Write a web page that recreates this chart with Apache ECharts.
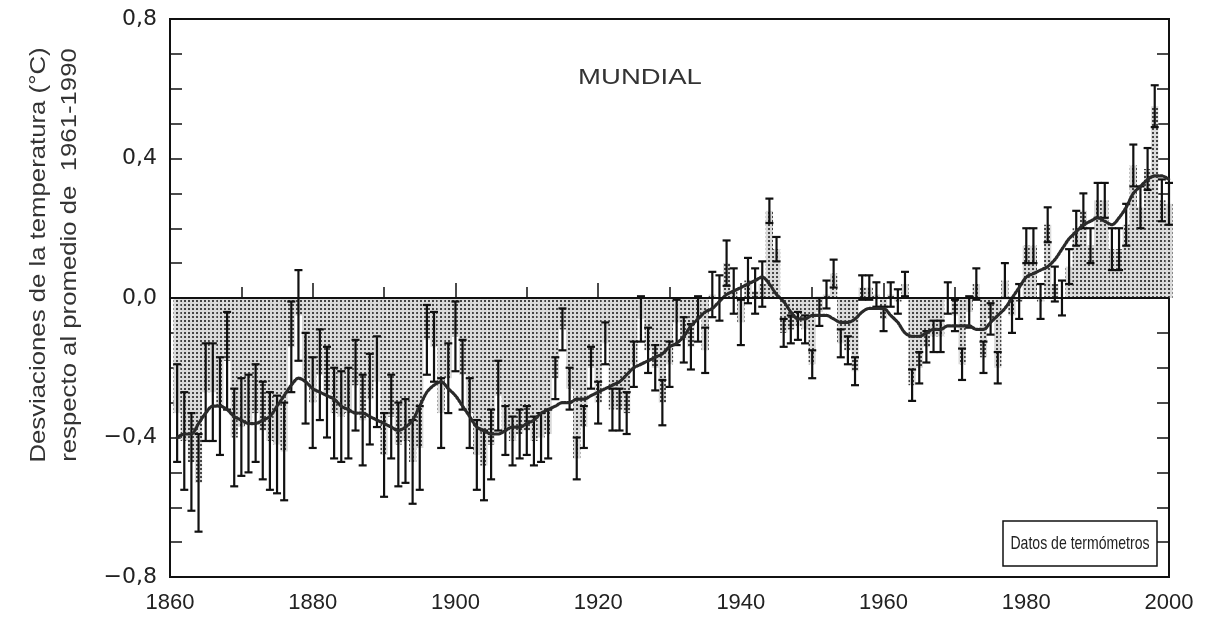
<!DOCTYPE html>
<html>
<head>
    <meta charset="UTF-8">
    <title>Temperatura mundial 1861-2000</title>
    <script src="https://cdn.jsdelivr.net/npm/echarts@6/dist/echarts.min.js"></script>
    <style>
        html, body { margin: 0; padding: 0; background: #fff; }
        #chart { width: 1210px; height: 620px; }
    </style>
</head>
<body>
<div id="chart"></div>
<script type="text/javascript">
    // primer año de la serie
    var firstYear = 1861;

    // desviación anual (°C) respecto a 1961-1990, 1861..2000
    var anomaly = [
        -0.33, -0.41, -0.47, -0.53, -0.27, -0.27, -0.31, -0.18, -0.40, -0.37,
        -0.36, -0.33, -0.38, -0.41, -0.42, -0.44, -0.14, -0.05, -0.23, -0.30,
        -0.22, -0.27, -0.33, -0.34, -0.33, -0.25, -0.35, -0.29, -0.24, -0.45,
        -0.34, -0.42, -0.41, -0.47, -0.43, -0.12, -0.14, -0.33, -0.23, -0.11,
        -0.22, -0.33, -0.45, -0.48, -0.42, -0.28, -0.38, -0.41, -0.39, -0.38,
        -0.41, -0.40, -0.39, -0.23, -0.09, -0.26, -0.46, -0.37, -0.20, -0.30,
        -0.13, -0.32, -0.32, -0.33, -0.19, -0.06, -0.15, -0.20, -0.30, -0.19,
        -0.07, -0.12, -0.14, -0.06, -0.15, 0.01, 0.00, 0.10, 0.02, -0.07,
        0.05, 0.02, 0.04, 0.25, 0.14, -0.10, -0.09, -0.08, -0.09, -0.19,
        -0.04, 0.01, 0.07, -0.13, -0.15, -0.21, 0.03, 0.03, 0.01, -0.06,
        0.01, -0.01, 0.04, -0.25, -0.20, -0.14, -0.11, -0.11, 0.00, -0.05,
        -0.19, -0.04, 0.04, -0.17, -0.06, -0.20, 0.05, -0.05, -0.01, 0.15,
        0.15, -0.01, 0.21, 0.04, 0.00, 0.09, 0.20, 0.25, 0.15, 0.28,
        0.28, 0.14, 0.14, 0.21, 0.38, 0.26, 0.37, 0.55, 0.28, 0.27
    ];

    // semiancho de la barra de error (°C)
    var errHalf = [
        0.14, 0.14, 0.14, 0.14, 0.14, 0.14, 0.14, 0.14, 0.14, 0.14,
        0.14, 0.14, 0.14, 0.14, 0.14, 0.14, 0.13, 0.13, 0.13, 0.13,
        0.13, 0.13, 0.13, 0.13, 0.13, 0.13, 0.13, 0.13, 0.13, 0.12,
        0.12, 0.12, 0.12, 0.12, 0.12, 0.10, 0.10, 0.10, 0.10, 0.10,
        0.10, 0.10, 0.10, 0.10, 0.10, 0.10, 0.07, 0.07, 0.07, 0.07,
        0.07, 0.07, 0.07, 0.06, 0.06, 0.06, 0.06, 0.06, 0.06, 0.06,
        0.06, 0.06, 0.06, 0.06, 0.065, 0.065, 0.065, 0.065, 0.065, 0.065,
        0.065, 0.065, 0.065, 0.065, 0.065, 0.065, 0.065, 0.065, 0.065, 0.065,
        0.065, 0.065, 0.065, 0.035, 0.035, 0.04, 0.04, 0.04, 0.04, 0.04,
        0.04, 0.04, 0.04, 0.04, 0.04, 0.04, 0.035, 0.035, 0.035, 0.035,
        0.035, 0.035, 0.035, 0.045, 0.045, 0.045, 0.045, 0.045, 0.045, 0.045,
        0.045, 0.045, 0.045, 0.045, 0.045, 0.045, 0.05, 0.05, 0.05, 0.05,
        0.05, 0.05, 0.05, 0.05, 0.05, 0.05, 0.05, 0.05, 0.05, 0.05,
        0.05, 0.06, 0.06, 0.06, 0.06, 0.06, 0.06, 0.06, 0.06, 0.06
    ];

    // curva suavizada
    var smooth = [
        -0.40, -0.39, -0.39, -0.36, -0.33, -0.31, -0.31, -0.32, -0.34, -0.35,
        -0.36, -0.36, -0.35, -0.34, -0.31, -0.28, -0.25, -0.23, -0.24, -0.26,
        -0.27, -0.28, -0.29, -0.31, -0.32, -0.33, -0.33, -0.34, -0.35, -0.36,
        -0.37, -0.38, -0.37, -0.35, -0.31, -0.27, -0.25, -0.24, -0.26, -0.28,
        -0.31, -0.34, -0.37, -0.38, -0.39, -0.39, -0.38, -0.37, -0.37, -0.36,
        -0.35, -0.33, -0.32, -0.31, -0.30, -0.30, -0.29, -0.29, -0.28, -0.27,
        -0.26, -0.25, -0.24, -0.22, -0.20, -0.19, -0.18, -0.17, -0.16, -0.14,
        -0.13, -0.11, -0.08, -0.06, -0.04, -0.03, -0.01, 0.01, 0.02, 0.03,
        0.04, 0.05, 0.06, 0.04, 0.01, -0.01, -0.04, -0.06, -0.06, -0.05,
        -0.05, -0.05, -0.06, -0.07, -0.07, -0.06, -0.04, -0.03, -0.03, -0.03,
        -0.05, -0.07, -0.10, -0.11, -0.11, -0.10, -0.09, -0.09, -0.08, -0.08,
        -0.08, -0.08, -0.09, -0.09, -0.07, -0.05, -0.03, 0.00, 0.03, 0.06,
        0.07, 0.08, 0.09, 0.11, 0.14, 0.17, 0.19, 0.21, 0.22, 0.23,
        0.22, 0.21, 0.23, 0.26, 0.30, 0.32, 0.34, 0.35, 0.35, 0.34
    ];

    var yTicks = [-0.8, -0.4, 0.0, 0.4, 0.8];
    var xTicks = [1860, 1880, 1900, 1920, 1940, 1960, 1980, 2000];

    var chart = echarts.init(document.getElementById('chart'));

    var barData = [], errData = [], lineData = [];
    for (var i = 0; i < anomaly.length; i++) {
        var yr = firstYear + i;
        barData.push([yr, anomaly[i]]);
        errData.push([yr, anomaly[i] - errHalf[i], anomaly[i] + errHalf[i]]);
        lineData.push([yr, smooth[i]]);
    }

    function fmtY(v) {
        var r = Math.round(v * 10) / 10;
        for (var k = 0; k < yTicks.length; k++) {
            if (Math.abs(yTicks[k] - r) < 1e-6) {
                var s = Math.abs(r).toFixed(1).replace('.', ',');
                return r < 0 ? '\u2212' + s : s;
            }
        }
        return '';
    }

    var font = 'Liberation Sans, Arial, sans-serif';
    var wideFont = 'DejaVu Sans, Verdana, sans-serif';

    var yAxisBase = {
        type: 'value',
        min: -0.8,
        max: 0.8,
        interval: 0.4,
        axisLine: {show: true, lineStyle: {color: '#111', width: 2}},
        axisTick: {show: true, inside: true, length: 12, lineStyle: {color: '#111', width: 1.5}},
        minorTick: {show: true, splitNumber: 4, length: 12, lineStyle: {color: '#111', width: 1.5}},
        splitLine: {show: false}
    };

    var option = {
        animation: false,
        aria: {enabled: true, decal: {show: true}},
        grid: {left: 170, right: 41, top: 19, bottom: 43, show: true, borderColor: '#111', borderWidth: 2},
        xAxis: {
            type: 'value',
            min: 1860,
            max: 2000,
            interval: 20,
            axisLine: {show: true, lineStyle: {color: '#111', width: 2}},
            axisTick: {show: true, inside: true, length: 15, lineStyle: {color: '#111', width: 1.5}},
            minorTick: {show: true, splitNumber: 2, length: 11, lineStyle: {color: '#111', width: 1.5}},
            splitLine: {show: false},
            axisLabel: {
                margin: 15, color: '#222', fontSize: 22, fontFamily: font,
                formatter: function (v) { return xTicks.indexOf(v) >= 0 ? String(v) : ''; }
            }
        },
        yAxis: [
            echarts.util.merge({
                position: 'left',
                axisLabel: {margin: 13, color: '#222', fontSize: 22, fontFamily: wideFont, formatter: fmtY}
            }, yAxisBase, true),
            echarts.util.merge({
                position: 'right',
                axisLabel: {show: false}
            }, yAxisBase, true)
        ],
        series: [
            {
                name: 'anual',
                type: 'bar',
                data: barData,
                barWidth: 7.2,
                itemStyle: {
                    color: '#dadada',
                    decal: {
                        symbol: 'rect',
                        symbolSize: 1,
                        dashArrayX: [1.5, 1.5],
                        dashArrayY: [1.5, 1.5],
                        color: '#444',
                        rotation: 0
                    }
                },
                markLine: {
                    silent: true,
                    symbol: 'none',
                    label: {show: false},
                    lineStyle: {color: '#111', width: 2, type: 'solid'},
                    data: [{yAxis: 0}]
                },
                z: 2
            },
            {
                name: 'error',
                type: 'custom',
                data: errData,
                encode: {x: 0, y: [1, 2]},
                renderItem: function (params, api) {
                    var x = api.value(0);
                    var lo = api.coord([x, api.value(1)]);
                    var hi = api.coord([x, api.value(2)]);
                    var w = 4;
                    var st = {stroke: '#111', lineWidth: 2.2};
                    return {
                        type: 'group',
                        children: [
                            {type: 'line', shape: {x1: lo[0], y1: lo[1], x2: hi[0], y2: hi[1]}, style: st},
                            {type: 'line', shape: {x1: lo[0] - w, y1: lo[1], x2: lo[0] + w, y2: lo[1]}, style: st},
                            {type: 'line', shape: {x1: hi[0] - w, y1: hi[1], x2: hi[0] + w, y2: hi[1]}, style: st}
                        ]
                    };
                },
                z: 3
            },
            {
                name: 'suavizada',
                type: 'line',
                data: lineData,
                showSymbol: false,
                smooth: 0.3,
                lineStyle: {color: '#2a2a2a', width: 3.2, type: [2, 1.5], cap: 'round'},
                z: 4
            }
        ],
        graphic: [
            {
                type: 'text',
                x: 54, y: 255,
                rotation: Math.PI / 2,
                scaleX: 1.17,
                style: {
                    text: 'Desviaciones de la temperatura (°C)\nrespecto al promedio de  1961-1990',
                    font: '22px ' + font,
                    fill: '#333',
                    textAlign: 'center',
                    textVerticalAlign: 'middle',
                    lineHeight: 31
                }
            },
            {
                type: 'text',
                x: 640, y: 78,
                scaleX: 1.25,
                style: {
                    text: 'MUNDIAL',
                    font: '22px ' + font,
                    fill: '#333',
                    textAlign: 'center',
                    textVerticalAlign: 'middle'
                }
            },
            {
                type: 'rect',
                shape: {x: 1003, y: 521, width: 154, height: 45},
                style: {fill: '#fff', stroke: '#111', lineWidth: 1.5},
                z: 10
            },
            {
                type: 'text',
                x: 1080, y: 544,
                scaleX: 0.74,
                style: {
                    text: 'Datos de termómetros',
                    font: '19px ' + font,
                    fill: '#222',
                    textAlign: 'center',
                    textVerticalAlign: 'middle'
                },
                z: 11
            }
        ]
    };

    chart.setOption(option);
</script>
</body>
</html>
